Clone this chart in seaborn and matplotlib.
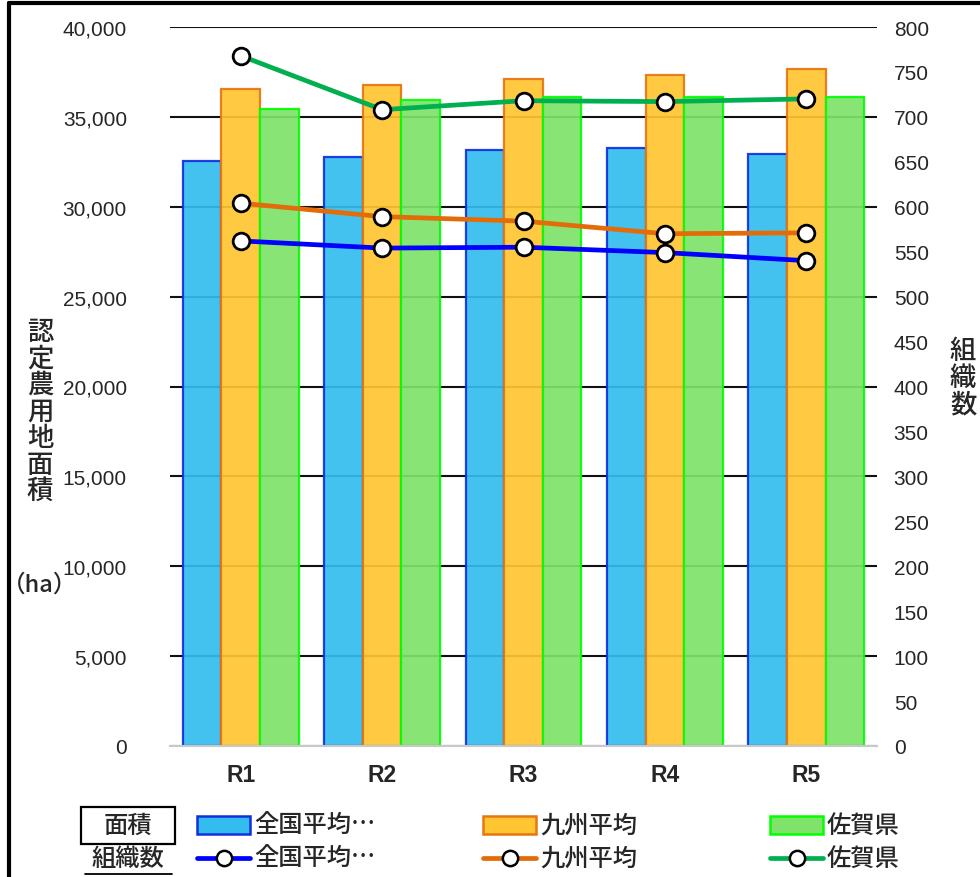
import matplotlib
matplotlib.use("Agg")
import matplotlib.pyplot as plt
import seaborn as sns
import pandas as pd
import numpy as np
from matplotlib.patches import Rectangle
from matplotlib.lines import Line2D

sns.set_theme(style="white")
plt.rcParams['font.family'] = ['Noto Sans CJK JP', 'DejaVu Sans']

# ---- data ----
categories = ["R1", "R2", "R3", "R4", "R5"]
series_names = ["全国平均…", "九州平均", "佐賀県"]
area_national = [32550, 32770, 33160, 33270, 32940]
area_kyushu = [36550, 36770, 37110, 37330, 37660]
area_saga = [35440, 35940, 36110, 36110, 36110]
org_national = [562, 554, 555, 549, 540]
org_kyushu = [604, 589, 584, 570, 571]
org_saga = [768, 708, 718, 717, 720]
left_ticks = list(range(0, 40001, 5000))
right_ticks = list(range(0, 801, 50))

bar_fill = ["#33BDEE", "#FFC631", "#7FE26A"]
bar_edge = ["#1030E0", "#E87511", "#00FF00"]
line_col = ["#0000FF", "#E36C09", "#00B050"]

df = pd.DataFrame({
    "cat": categories * 3,
    "series": sum([[s] * 5 for s in series_names], []),
    "area": area_national + area_kyushu + area_saga,
})

W, H = 980, 878
fig = plt.figure(figsize=(W / 100, H / 100), dpi=100)
ax = fig.add_axes([170 / W, 1 - 747 / H, (877 - 170) / W, (747 - 28) / H])

num_font = ['Liberation Sans', 'DejaVu Sans']
jp_w = "medium"

ax.set_axisbelow(True)
ax.yaxis.grid(True, color="#111111", linewidth=1.5)
sns.barplot(data=df, x="cat", y="area", hue="series", hue_order=series_names,
            palette=bar_fill, width=0.82, ax=ax, legend=False, saturation=1,
            alpha=0.92)
for i, cont in enumerate(ax.containers):
    for p in cont:
        p.set_edgecolor(bar_edge[i])
        p.set_linewidth(1.6)

ax.set_ylim(0, 40000)
ax.set_xlim(-0.5, 4.5)
ax.set_yticks(left_ticks)
ax.set_yticklabels([f"{v:,}" for v in left_ticks], fontsize=15, family=num_font)
ax.set_xticks(range(5))
ax.set_xticklabels(categories, fontsize=16.5, fontweight="bold", family=num_font)
ax.tick_params(axis="x", length=0, pad=12)
ax.tick_params(axis="y", length=0, pad=31)
ax.set_xlabel("")
ax.set_ylabel("")
for s in ["top", "right", "left"]:
    ax.spines[s].set_visible(False)
ax.spines["bottom"].set_color("#C8C8C8")
ax.spines["bottom"].set_linewidth(1.5)

ax2 = ax.twinx()
xs = np.arange(5)
for vals, c in zip([org_national, org_kyushu, org_saga], line_col):
    sns.lineplot(x=xs, y=vals, ax=ax2, color=c, linewidth=3.4, marker="o",
                 markersize=12, markerfacecolor="white", markeredgecolor="black",
                 markeredgewidth=2, zorder=5)
ax2.set_ylim(0, 800)
ax2.set_xlim(-0.5, 4.5)
ax2.set_yticks(right_ticks)
ax2.set_yticklabels([str(v) for v in right_ticks], fontsize=15, family=num_font)
ax2.tick_params(axis="y", length=0, pad=12)
for s in ax2.spines.values():
    s.set_visible(False)
ax2.grid(False)

# axis titles
fig.text(40 / W, 1 - 412 / H, "\n".join("認定農用地面積"), fontsize=19,
         ha="center", va="center", linespacing=0.98, fontweight=jp_w)
fig.text(40 / W, 1 - 585 / H, "（ha）", fontsize=17, ha="center", va="center",
         fontweight=jp_w)
fig.text(963 / W, 1 - 378 / H, "\n".join("組織数"), fontsize=19,
         ha="center", va="center", linespacing=0.98, fontweight=jp_w)

# figure border (left and top)
fig.add_artist(Line2D([9 / W, 9 / W], [0, 1 - 4 / H], transform=fig.transFigure,
                      color="black", linewidth=3))
fig.add_artist(Line2D([9 / W, 1], [1 - 4 / H, 1 - 4 / H], transform=fig.transFigure,
                      color="black", linewidth=3))

# legend
def fx(px):
    return px / W

def fy(py):
    return 1 - py / H

fig.add_artist(Rectangle((fx(81), fy(845)), fx(94), 37 / H,
                         transform=fig.transFigure, fc="white", ec="black", lw=1.6))
fig.text(fx(128), fy(826), "面積", fontsize=17.5, ha="center", va="center",
         fontweight=jp_w)
fig.text(fx(128), fy(859), "組織数", fontsize=17.5, ha="center", va="center",
         fontweight=jp_w)
fig.add_artist(Line2D([fx(85), fx(172)], [fy(875), fy(875)],
                      transform=fig.transFigure, color="black", linewidth=1.3))

starts = [197, 483, 770]
for i, x0 in enumerate(starts):
    fig.add_artist(Rectangle((fx(x0), fy(835)), fx(53), 18 / H,
                             transform=fig.transFigure, fc=bar_fill[i],
                             ec=bar_edge[i], lw=1.8))
    fig.text(fx(x0 + 57), fy(826), series_names[i], fontsize=17.5,
             ha="left", va="center", fontweight=jp_w)
    fig.add_artist(Line2D([fx(x0), fx(x0 + 53)], [fy(859), fy(859)],
                          transform=fig.transFigure, color=line_col[i],
                          linewidth=3.4))
    fig.add_artist(Line2D([fx(x0 + 26.5)], [fy(859)], transform=fig.transFigure,
                          marker="o", markersize=11, markerfacecolor="white",
                          markeredgecolor="black", markeredgewidth=1.8))
    fig.text(fx(x0 + 57), fy(859), series_names[i], fontsize=17.5,
             ha="left", va="center", fontweight=jp_w)

fig.savefig("out.png", dpi=100)
